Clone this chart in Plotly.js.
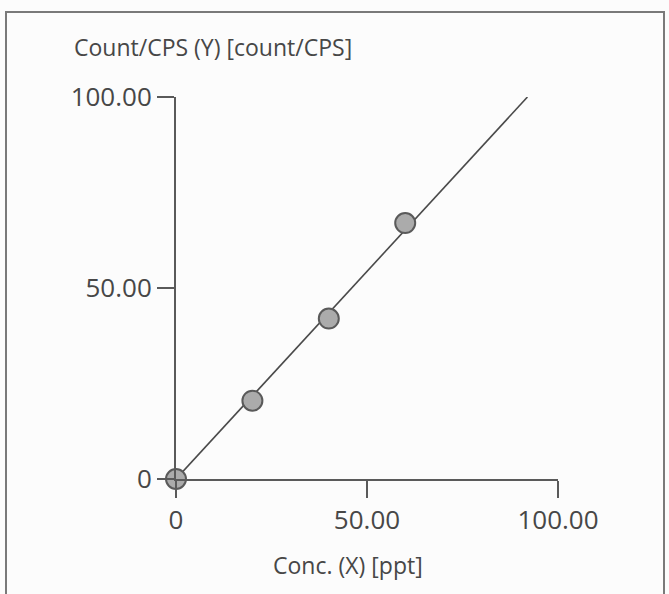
<!DOCTYPE html>
<html>
<head>
<meta charset="utf-8">
<script src="https://cdn.plot.ly/plotly-3.0.1.min.js"></script>
<style>
html,body{margin:0;padding:0;background:#fcfcfc;}
#wrap{position:relative;width:669px;height:594px;overflow:hidden;}
#frame{position:absolute;left:5px;top:11px;width:660px;height:600px;border:2px solid #7a7a7a;box-sizing:border-box;pointer-events:none;}
#chart{position:absolute;left:0;top:0;width:669px;height:594px;}
</style>
</head>
<body>
<div id="wrap"><div id="chart"></div><div id="frame"></div></div>
<script>
// Data
const concX = [0, 20, 40, 60];            // Conc. (X) [ppt]
const countY = [0, 20.5, 42.0, 67.0];     // Count/CPS (Y)
const fitX = [0, 92];                     // calibration line end points
const fitY = [0, 100];
const xTickVals = [0, 50, 100];
const xTickText = ["0", "50.00", "100.00"];
const yTickVals = [0, 50, 100];
const yTickText = ["0", "50.00", "100.00"];
const xTitle = "Conc. (X) [ppt]";
const yTitle = "Count/CPS (Y) [count/CPS]";

const txt = "#474747";
const axisCol = "#5a5a5a";
const fontFam = "'Open Sans', 'Noto Sans', sans-serif";

const traces = [
  {x: fitX, y: fitY, mode: "lines", line: {color: "#4a4a4a", width: 1.6}, hoverinfo: "skip", cliponaxis: false},
  {x: concX, y: countY, mode: "markers", cliponaxis: false,
   marker: {size: 20, color: "#ababab", line: {color: "#5a5a5a", width: 2}}}
];

const plotW = 382, plotH = 382, mLeft = 176, mTop = 97;

const layout = {
  width: 669, height: 594,
  paper_bgcolor: "rgba(0,0,0,0)", plot_bgcolor: "rgba(0,0,0,0)",
  showlegend: false,
  margin: {l: mLeft, r: 669 - mLeft - plotW, t: mTop, b: 594 - mTop - plotH, pad: 0},
  font: {family: fontFam, color: txt},
  xaxis: {
    range: [0, 100], showgrid: false, zeroline: false,
    showline: true, linecolor: axisCol, linewidth: 2,
    ticks: "outside", ticklen: 17, tickwidth: 2, tickcolor: axisCol,
    tickvals: xTickVals, ticktext: xTickText,
    tickfont: {size: 26, color: txt, family: fontFam}, ticklabelstandoff: 0,
    fixedrange: true
  },
  yaxis: {
    range: [0, 100], showgrid: false, zeroline: false,
    showline: true, linecolor: axisCol, linewidth: 2,
    ticks: "outside", ticklen: 17, tickwidth: 2, tickcolor: axisCol,
    tickvals: yTickVals, ticktext: yTickText,
    tickfont: {size: 26, color: txt, family: fontFam}, ticklabelstandoff: 0,
    fixedrange: true
  },
  annotations: [
    {text: yTitle, xref: "paper", yref: "paper", x: (72 - mLeft) / plotW, y: 1 + (mTop - 47) / plotH,
     xanchor: "left", yanchor: "middle", showarrow: false,
     font: {size: 23, color: txt, family: fontFam}},
    {text: xTitle, xref: "paper", yref: "paper", x: (348 - mLeft) / plotW, y: -(565 - mTop - plotH) / plotH,
     xanchor: "center", yanchor: "middle", showarrow: false,
     font: {size: 23, color: txt, family: fontFam}}
  ]
};

Plotly.newPlot("chart", traces, layout, {displayModeBar: false, staticPlot: true});
</script>
</body>
</html>
